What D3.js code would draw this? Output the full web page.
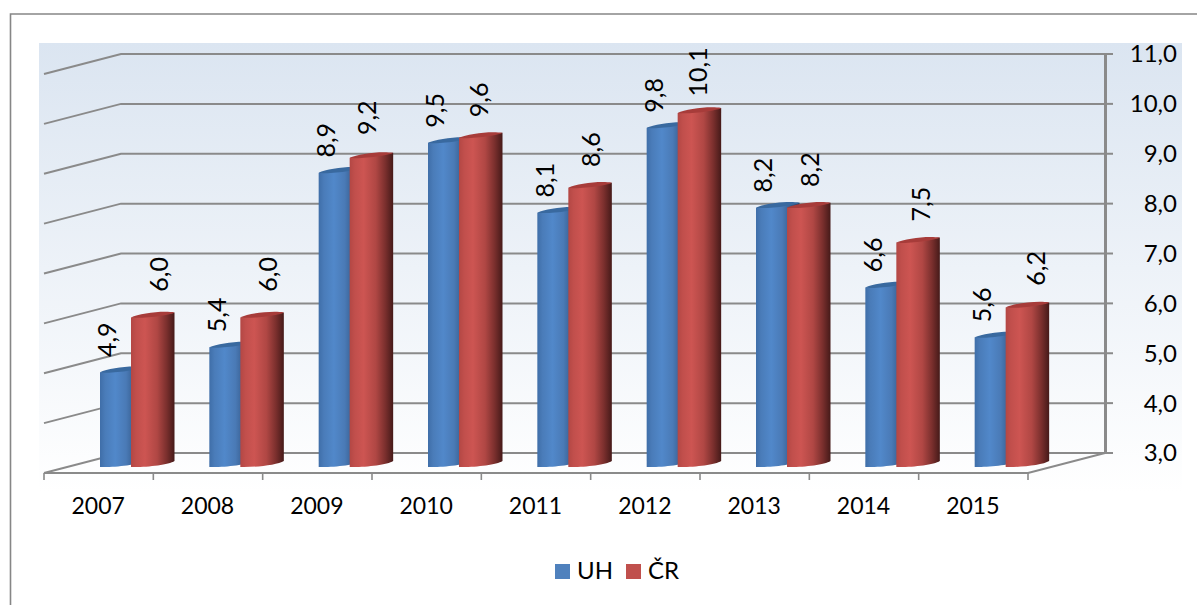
<!DOCTYPE html>
<html><head><meta charset="utf-8">
<script src="https://cdn.jsdelivr.net/npm/d3@7"></script>
<style>html,body{margin:0;padding:0;background:#fff}svg{display:block}text{font-family:Lato,"Open Sans",sans-serif;fill:#000}</style>
</head><body><svg id="c" width="1197" height="605"></svg>
<script>
const years=["2007","2008","2009","2010","2011","2012","2013","2014","2015"];
const seriesNames=["UH","ČR"];
const uh=[4.9,5.4,8.9,9.5,8.1,9.8,8.2,6.6,5.6];
const cr=[6.0,6.0,9.2,9.6,8.6,10.1,8.2,7.5,6.2];
const yTicks=[3,4,5,6,7,8,9,10,11];
const fmt=v=>v.toFixed(1).replace(".",",");

const svg=d3.select("#c"), defs=svg.append("defs");
const W=1197,H=605;
// depth of the 3D box
const dx=77, dy=20;
const x=d3.scaleBand().domain(years).range([44,1028]);
const y=d3.scaleLinear().domain([3,11]).range([453,54]);

function grad(id,stops,vertical){
  const g=defs.append("linearGradient").attr("id",id).attr("x1",0).attr("y1",0)
    .attr("x2",vertical?0:1).attr("y2",vertical?1:0);
  stops.forEach(s=>g.append("stop").attr("offset",s[0]).attr("stop-color",s[1]));
}
grad("bg",[[0,"#dbe5f1"],[1,"#ffffff"]],true);
grad("gBlue",[[0,"#3f6ea8"],[0.12,"#4a7cb9"],[0.35,"#5188ca"],[0.6,"#4a7ab6"],[0.8,"#375d8e"],[1,"#223c5f"]]);
grad("gRed",[[0,"#b34744"],[0.12,"#c14f4c"],[0.32,"#cd5552"],[0.6,"#b04744"],[0.82,"#7a2f2d"],[1,"#451a19"]]);

// frame + wall background
svg.append("path").attr("d",`M10.5,${H}V14H${W}`).attr("fill","none").attr("stroke","#868686").attr("stroke-width",1.6);
svg.append("rect").attr("x",39).attr("y",43).attr("width",1143).attr("height",450).attr("fill","url(#bg)");

// gridlines: side wall + back wall
const grid=svg.append("g").attr("fill","none").attr("stroke","#8a8a8a").attr("stroke-width",2);
yTicks.forEach(t=>{
  grid.append("path").attr("d",`M${x.range()[0]},${y(t)+dy}L${x.range()[0]+dx},${y(t)}H${x.range()[1]+dx}`);
  grid.append("path").attr("d",`M${x.range()[1]+dx},${y(t)}h8`);
});
// back wall right edge, floor
grid.append("path").attr("d",`M${x.range()[1]+dx+0.5},${y(11)}V${y(3)}`).attr("stroke-width",3);
grid.append("path").attr("d",`M${x.range()[0]},${y(3)+dy}H${x.range()[1]}L${x.range()[1]+dx},${y(3)}`);
// category ticks
const tickXs=years.map(d=>x(d)).concat([x.range()[1]]);
tickXs.forEach(t=>grid.append("path").attr("d",`M${t},${y(3)+dy}v7`).attr("stroke-width",1.6));

// y tick labels
svg.append("g").selectAll("text").data(yTicks).join("text")
  .attr("x",1177).attr("y",d=>y(d)).attr("dy","0.35em").attr("text-anchor","end")
  .attr("font-size",24).text(fmt);
// category labels
svg.append("g").selectAll("text").data(years).join("text")
  .attr("x",d=>x(d)+x.bandwidth()/2-0.5).attr("y",506).attr("dy","0.35em").attr("text-anchor","middle")
  .attr("font-size",23).text(d=>d);

// cylinders
const bw=43.5, rise=5, base=y(3)+14;
function cyl(g,x0,v,bodyFill,topFill){
  const yt=y(v)+14, x1=x0+bw;
  g.append("path").attr("fill",bodyFill)
   .attr("d",`M${x0},${yt}V${base}C${x0+14},${base+0.5} ${x1-6},${base-2} ${x1},${base-rise-1}V${yt-rise}Z`);
  g.append("path").attr("fill",topFill)
   .attr("d",`M${x0},${yt}C${x0+8},${yt-4} ${x1-12},${yt-7} ${x1},${yt-rise}C${x1-1},${yt-rise+2} ${x0+10},${yt+2} ${x0},${yt}Z`);
}
const bars=svg.append("g");
years.forEach((yr,i)=>{
  const g=bars.append("g");
  cyl(g,x(yr)+56,uh[i],"url(#gBlue)","#39699f");
  cyl(g,x(yr)+87,cr[i],"url(#gRed)","#a73c3a");
});
// value labels (the ČR labels sit at individually nudged places in the source chart)
const crNudgeX=[115,114.5,105,107,110,108,110,112,117.5];
const crNudgeY=[43,43,40,38,38,41,38,38.5,39];
function labels(vals,off,gap){
  svg.append("g").selectAll("text").data(vals).join("text")
    .attr("text-anchor","middle").attr("dy","0.35em").attr("font-size",25)
    .attr("transform",(d,i)=>`translate(${x(years[i])+off(i)},${y(d)+14-gap(i)}) rotate(-90)`)
    .text(fmt);
}
labels(uh,()=>63.5,()=>32.5);
labels(cr,i=>crNudgeX[i],i=>crNudgeY[i]);

// legend
const lx=[555,626], colors=["#4f81bd","#c0504d"], tx=[577,648];
seriesNames.forEach((n,i)=>{
  svg.append("rect").attr("x",lx[i]).attr("y",564).attr("width",15).attr("height",15).attr("fill",colors[i]);
  svg.append("text").attr("x",tx[i]).attr("y",571).attr("dy","0.35em").attr("font-size",24).text(n);
});
</script></body></html>
